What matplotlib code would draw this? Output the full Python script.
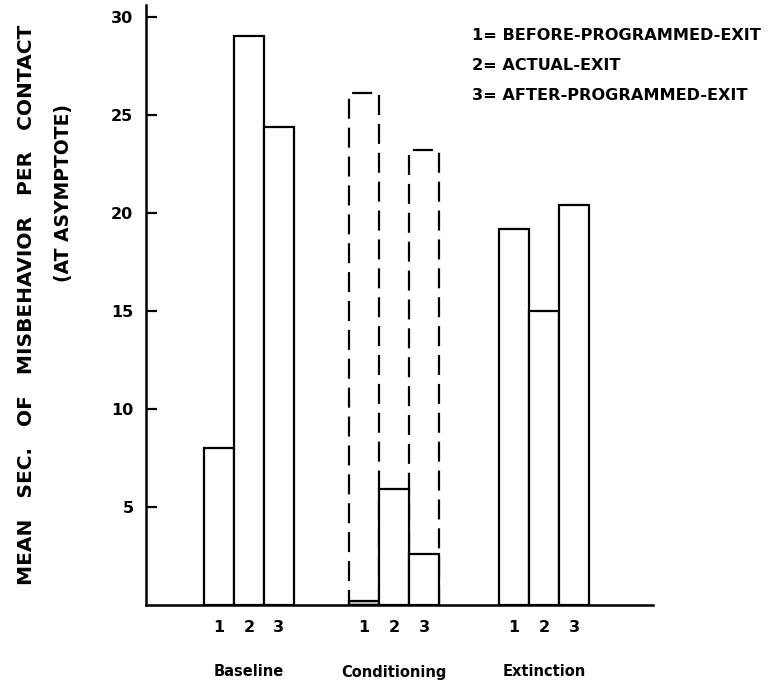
import matplotlib
matplotlib.use("Agg")
import matplotlib.pyplot as plt
from matplotlib.patches import Rectangle
from matplotlib.transforms import blended_transform_factory

# data
phases = ["Baseline", "Conditioning", "Extinction"]
bar_labels = ["1", "2", "3"]
baseline = [8.0, 29.0, 24.4]
conditioning = [0.2, 5.9, 2.6]
extinction = [19.2, 15.0, 20.4]
# dashed outlines in conditioning (bars 1 and 3)
cond_dashed = [26.1, None, 23.2]
legend_lines = ["1= BEFORE-PROGRAMMED-EXIT", "2= ACTUAL-EXIT", "3= AFTER-PROGRAMMED-EXIT"]

group_left = [1.93, 6.77, 11.77]   # left edge of bar 1 in each group
width = 1.0

fig = plt.figure(figsize=(7.72, 6.93), dpi=100)
ax = fig.add_axes([0.1891, 0.1270, 0.8459 - 0.1891, 0.9928 - 0.1270])

lw = 1.6
for g, vals in enumerate([baseline, conditioning, extinction]):
    for i, v in enumerate(vals):
        x0 = group_left[g] + i * width
        fc = "#c8c8c8" if v < 1 else "white"
        ax.add_patch(Rectangle((x0, 0), width, v, facecolor=fc, edgecolor="black", lw=lw, zorder=3))

for i, v in enumerate(cond_dashed):
    if v is None:
        continue
    x0 = group_left[1] + i * width
    ax.add_patch(Rectangle((x0, 0), width, v, facecolor="none", edgecolor="black",
                           lw=lw, linestyle=(0, (9, 4)), zorder=2))

ax.set_xlim(0, 16.9)
ax.set_ylim(0, 30.6)
for s in ["top", "right"]:
    ax.spines[s].set_visible(False)
for s in ["left", "bottom"]:
    ax.spines[s].set_linewidth(1.8)

ax.set_yticks([5, 10, 15, 20, 25, 30])
ax.set_yticklabels(["5", "10", "15", "20", "25", "30"], fontsize=11.5, fontweight="bold")
ax.tick_params(axis="y", direction="in", length=8, width=1.6, pad=9)

xt = []
xl = []
for g in range(3):
    for i in range(3):
        xt.append(group_left[g] + i * width + width / 2)
        xl.append(bar_labels[i])
ax.set_xticks(xt)
ax.set_xticklabels(xl, fontsize=11.5, fontweight="bold")
ax.tick_params(axis="x", length=0, pad=11)

trans = blended_transform_factory(ax.transData, fig.transFigure)
for g, name in enumerate(phases):
    ax.text(group_left[g] + 1.5, 1 - 672 / 693, name, transform=trans,
            ha="center", va="center", fontsize=10.5, fontweight="semibold")

for k, line in enumerate(legend_lines):
    fig.text(472 / 772, 1 - (35 + 30 * k) / 693, line, ha="left", va="center",
             fontsize=11.6, fontweight="bold")

fig.text(27 / 772, 1 - 305 / 693, "MEAN   SEC.   OF   MISBEHAVIOR   PER   CONTACT",
         rotation=90, ha="center", va="center", fontsize=14.5, fontweight="bold")
fig.text(63 / 772, 1 - 193 / 693, "(AT ASYMPTOTE)",
         rotation=90, ha="center", va="center", fontsize=13.5, fontweight="bold")

fig.savefig("out.png", dpi=100)
